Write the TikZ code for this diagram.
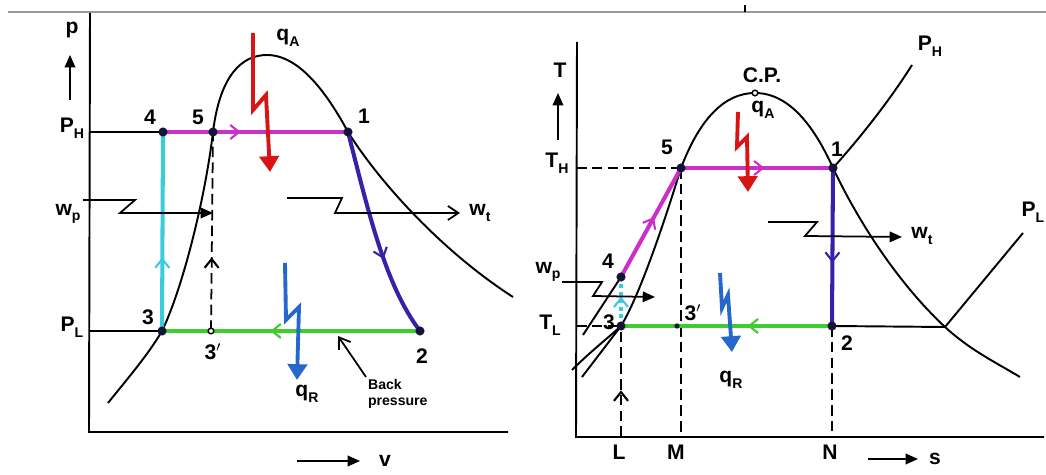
\documentclass[tikz,border=0pt]{standalone}
\usepackage{fontspec}
\setmainfont{Liberation Sans}
\usetikzlibrary{arrows.meta,decorations.markings}
\definecolor{Heating}{HTML}{CC2FC8}
\definecolor{Pumping}{HTML}{3CCBDC}
\definecolor{Condens}{HTML}{3FCC2E}
\definecolor{Expand}{HTML}{3A1FA8}
\definecolor{HeatIn}{HTML}{D81414}
\definecolor{HeatOut}{HTML}{2468CC}
\definecolor{Dot}{HTML}{14143A}
\newcommand{\subl}[2]{#1\raisebox{-0.5ex}{\footnotesize #2}}
\tikzset{
  lbl/.style={font=\fontsize{12}{14}\selectfont\bfseries},
  curve/.style={line width=1.1pt},
  proc/.style={line width=2.3pt},
  midarrow/.style={postaction={decorate},decoration={markings,
    mark=at position #1 with {\arrow{Straight Barb[length=5pt,width=8pt,line width=1.2pt]}}}},
  heat/.style={line width=2.2pt,-{Triangle[length=9pt,width=11pt]}},
  work/.style={line width=1pt,-{Straight Barb[length=6pt,width=8pt]}},
  guide/.style={line width=1pt,dashed,dash pattern=on 6pt off 3pt},
}
\begin{document}
\begin{tikzpicture}[x=0.02cm,y=-0.02cm]
  \useasboundingbox (0,0) rectangle (1046,475);
  \draw[line width=1.6pt,black!40] (8,12) -- (1046,12);
  \draw[line width=1.2pt] (745,5) -- (745,12);

  % p-v chart
  \coordinate (L1) at (348,132);
  \coordinate (L2) at (420,331);
  \coordinate (L3) at (162,331);
  \coordinate (L4) at (163,132);
  \coordinate (L5) at (213,132);
  \coordinate (L3p) at (211,331);
  \coordinate (pvO) at (89,432);
  \draw[curve] (90,13) -- (pvO) -- (508,432);
  \draw[curve] (pvO |- L4) -- (L4);
  \draw[curve] (pvO |- L3) -- (L3);
  \draw[curve] (108,403) .. controls (128,378) and (148,355) .. (L3)
    .. controls (182,290) and (205,200) .. (L5)
    .. controls (220,75) and (242,55) .. (267,55)
    .. controls (300,55) and (328,95) .. (L1)
    .. controls (378,180) and (440,250) .. (513,297);
  \draw[guide,midarrow=0.37] (L3p) -- (L5);
  \draw[proc,Heating,midarrow=0.42] (L4) -- (L1);
  \draw[proc,Pumping,midarrow=0.37] (L3) -- (L4);
  \draw[proc,Condens,midarrow=0.58] (L2) -- (L3);
  \draw[proc,Expand,midarrow=0.62] (L1) .. controls (368,210) and (385,285) .. (L2);
  \foreach \p in {L1,L2,L3,L4,L5} \fill[Dot] (\p) circle (2.6pt);
  \draw[line width=0.8pt,fill=white] (L3p) circle (1.6pt);
  \draw[heat,HeatIn] (253,33) -- (253,110) -- (266,95) -- (270,172);
  \draw[heat,HeatOut] (285,263) -- (286,320) -- (299,307) -- (297,380);
  \draw[work,-{Triangle[length=7pt,width=6pt]}] (83,200) -- (135,200) -- (120,213) -- (L5 |- 0,213);
  \draw[work] (287,198) -- (342,198) -- (335,213) -- (460,213);
  \draw[work,-{Triangle[length=7pt,width=6pt]}] (70,100) -- (70,55);
  \draw[work,-{Triangle[length=7pt,width=6pt]}] (297,461) -- (360,461);
  \node[lbl] (pLab) at (72,30) {p};
  \node[lbl] (pHLab) at (72,128) {\subl{P}{H}};
  \node[lbl] (pLLab) at (72,327) {\subl{P}{L}};
  \node[lbl] (wpLab) at (68,214) {\subl{w}{p}};
  \node[lbl] (wtLab) at (480,213) {\subl{w}{t}};
  \node[lbl] (qALab) at (288,38) {\subl{q}{A}};
  \node[lbl] (qRLab) at (307,394) {\subl{q}{R}};
  \node[lbl] (vLab) at (385,461) {v};
  \node[lbl] (n4) at (150,117) {4};
  \node[lbl] (n5) at (198,117) {5};
  \node[lbl] (n1) at (364,116) {1};
  \node[lbl] (n3) at (148,317) {3};
  \node[lbl] (n3p) at (213,352) {3$'$};
  \node[lbl] (n2) at (422,356) {2};
  \node[font=\fontsize{8}{9}\selectfont\bfseries,align=left,anchor=north west,inner sep=1pt] (bp) at (366,377) {Back\\pressure};
  \coordinate (bpTip) at (338,336);
  \draw[work] (bp.north west) -- (bpTip);

  % T-s chart
  \coordinate (R1) at (833,168);
  \coordinate (R2) at (832,326);
  \coordinate (R3) at (621,326);
  \coordinate (R4) at (621,277);
  \coordinate (R5) at (681,168);
  \coordinate (R3p) at (677,326);
  \coordinate (RX) at (945,327);
  \coordinate (CP) at (755,93);
  \coordinate (TsO) at (576,437);
  \draw[curve] (577,42) -- (TsO) -- (1044,437);
  \draw[curve] (572,370) .. controls (590,352) and (608,338) .. (R3)
    .. controls (640,295) and (665,220) .. (R5)
    .. controls (700,118) and (725,93) .. (CP)
    .. controls (790,93) and (815,128) .. (R1)
    .. controls (860,225) and (900,285) .. (RX)
    .. controls (970,350) and (995,362) .. (1020,377);
  \draw[curve] (582,377) -- (R3);
  \draw[curve] (583,335) -- (R4);
  \draw[curve] (R2) -- (RX) -- (1023,233);
  \draw[curve] (R1) .. controls (860,138) and (890,100) .. (912,65);
  \draw[guide] (TsO |- R5) -- (R5);
  \draw[guide] (TsO |- R3) -- (R3);
  \draw[guide] (R5) -- (R5 |- TsO);
  \draw[guide,midarrow=0.42] (R3 |- TsO) -- (R3);
  \draw[guide] (R2) -- (R2 |- TsO);
  \draw[proc,Heating,midarrow=0.55] (R4) -- (R5);
  \draw[proc,Heating,midarrow=0.55] (R5) -- (R1);
  \draw[proc,Pumping,dotted,midarrow=0.6] (R3) -- (R4);
  \draw[proc,Condens,midarrow=0.4] (R2) -- (R3);
  \draw[proc,Expand,midarrow=0.6] (R1) -- (R2);
  \foreach \p in {R1,R2,R3,R4,R5} \fill[Dot] (\p) circle (2.6pt);
  \fill[Dot] (R3p) circle (1.5pt);
  \draw[line width=0.8pt,fill=white] (CP) circle (1.6pt);
  \draw[heat,HeatIn] (738,112) -- (737,147) -- (747,137) -- (748,192);
  \draw[heat,HeatOut] (720,273) -- (722,308) -- (728,295) -- (732,352);
  \draw[work,-{Triangle[length=7pt,width=6pt]}] (562,282) -- (602,282) -- (593,296) -- (655,297);
  \draw[work,-{Triangle[length=7pt,width=6pt]}] (768,222) -- (817,222) -- (805,236) -- (902,237);
  \draw[work,-{Triangle[length=7pt,width=6pt]}] (558,140) -- (558,93);
  \draw[work,-{Triangle[length=7pt,width=6pt]}] (868,459) -- (918,459);
  \node[lbl] (TLab) at (560,70) {T};
  \node[lbl] (THLab) at (557,163) {\subl{T}{H}};
  \node[lbl] (TLLab) at (550,325) {\subl{T}{L}};
  \node[lbl] (wpLabR) at (548,272) {\subl{w}{p}};
  \node[lbl] (wtLabR) at (922,236) {\subl{w}{t}};
  \node[lbl] (qALabR) at (763,110) {\subl{q}{A}};
  \node[lbl] (qRLabR) at (731,380) {\subl{q}{R}};
  \node[lbl] (cpLab) at (762,75) {C.P.};
  \node[lbl] (PHLab) at (930,46) {\subl{P}{H}};
  \node[lbl] (PLLab) at (1033,212) {\subl{P}{L}};
  \node[lbl] (m4) at (608,261) {4};
  \node[lbl] (m3) at (609,322) {3};
  \node[lbl] (m5) at (667,147) {5};
  \node[lbl] (m1) at (837,149) {1};
  \node[lbl] (m2) at (847,343) {2};
  \node[lbl] (m3p) at (693,313) {3$'$};
  \node[lbl] (LLab) at (619,452) {L};
  \node[lbl] (MLab) at (676,452) {M};
  \node[lbl] (NLab) at (830,452) {N};
  \node[lbl] (sLab) at (935,459) {s};
\end{tikzpicture}
\end{document}
